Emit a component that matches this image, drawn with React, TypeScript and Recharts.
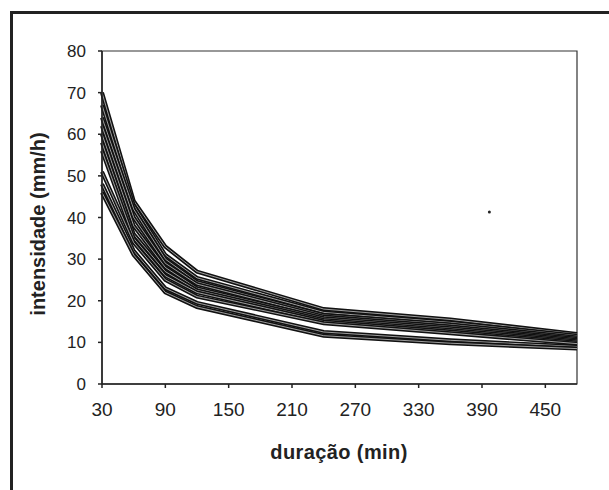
import { LineChart, Line, XAxis, YAxis, ReferenceArea, ReferenceDot, Label } from "recharts"

const duracoes = [30, 60, 90, 120, 240, 360, 480]
const xTicks = [30, 90, 150, 210, 270, 330, 390, 450]
const yTicks = [0, 10, 20, 30, 40, 50, 60, 70, 80]

const serie1 = [70, 44, 33, 27, 18, 15.5, 12]
const serie2 = [67, 43, 31, 25.5, 17.2, 14.8, 11.6]
const serie3 = [64, 42, 30, 24.5, 16.6, 14.3, 11.2]
const serie4 = [62, 40, 29, 24, 16.2, 13.8, 10.9]
const serie5 = [60, 38, 28, 23, 15.8, 13.4, 10.6]
const serie6 = [58, 36, 27, 22.5, 15.4, 13, 10.3]
const serie7 = [56, 35, 26, 22, 15, 12.6, 10]
const serie8 = [51, 34, 25, 21, 14.6, 12.2, 9.7]
const serie9 = [48, 32, 23, 19.5, 12.5, 10.5, 9]
const serie10 = [46, 31, 22, 18.5, 11.6, 9.8, 8.5]

const series = [serie1, serie2, serie3, serie4, serie5, serie6, serie7, serie8, serie9, serie10]

const data = duracoes.map((d, i) => {
  const row: Record<string, number> = { duracao: d }
  series.forEach((s, k) => {
    row["s" + (k + 1)] = s[i]
  })
  return row
})

const font = "Arial, 'Liberation Sans', sans-serif"

export default function App() {
  return (
    <div style={{ position: "absolute", left: 0, top: 0, width: 609, height: 490, overflow: "hidden", background: "#fff" }}>
      <div style={{ position: "absolute", left: 10, top: 11, width: 700, height: 600, border: "3px solid #222" }} />
      <div style={{ position: "absolute", left: 0, top: 0 }}>
        <LineChart width={609} height={490} data={data} margin={{ top: 51, right: 32, bottom: 26, left: 22 }}>
          <ReferenceArea x1={30} x2={480} y1={0} y2={80} fill="none" stroke="#333" strokeWidth={1.2} />
          <XAxis
            dataKey="duracao"
            type="number"
            domain={[30, 480]}
            ticks={xTicks}
            height={80}
            interval={0}
            stroke="#222"
            strokeWidth={1.5}
            tickSize={4}
            tickMargin={15}
            tick={{ fill: "#222", fontSize: 19, fontFamily: font }}
          >
            <Label
              content={() => (
                <text x={339} y={452} textAnchor="middle" dominantBaseline="central" fontFamily={font} fontWeight="bold" fontSize={20} letterSpacing={0.4} fill="#222">
                  duração (min)
                </text>
              )}
            />
          </XAxis>
          <YAxis
            type="number"
            domain={[0, 80]}
            ticks={yTicks}
            width={80}
            interval={0}
            stroke="#222"
            strokeWidth={1.5}
            tickSize={4}
            tickMargin={12}
            tick={{ fill: "#222", fontSize: 17, fontFamily: font }}
          >
            <Label
              content={() => (
                <text x={38} y={224} transform="rotate(-90 38 224)" textAnchor="middle" dominantBaseline="central" fontFamily={font} fontWeight="bold" fontSize={20} fill="#222">
                  intensidade (mm/h)
                </text>
              )}
            />
          </YAxis>
          {series.flatMap((_, k) => [
            <Line key={"b" + k} dataKey={"s" + (k + 1)} stroke="#111" strokeWidth={4} dot={false} isAnimationActive={false} />,
            <Line key={"w" + k} dataKey={"s" + (k + 1)} stroke="#fff" strokeWidth={0.7} strokeOpacity={0.85} dot={false} isAnimationActive={false} />,
          ])}
          <ReferenceDot x={397} y={41.3} r={1.5} fill="#222" stroke="none" />
        </LineChart>
      </div>
    </div>
  )
}
